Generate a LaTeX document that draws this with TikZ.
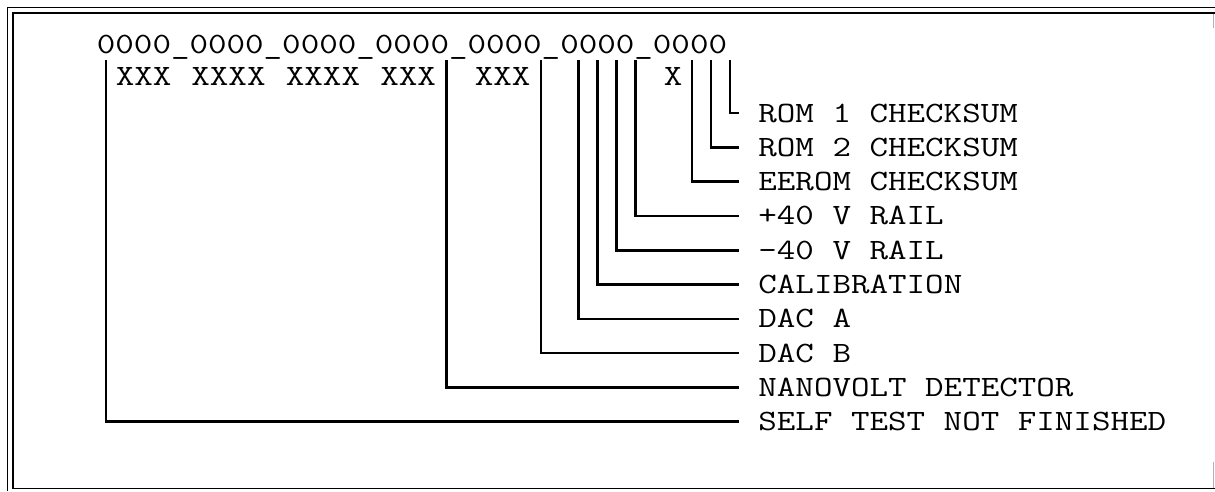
\documentclass[tikz,border=0pt]{standalone}
\usepackage{fontspec}
\newfontfamily\monofam{Latin Modern Mono}[FakeStretch=1.22]
\begin{document}
\begin{tikzpicture}[x=1pt,y=-1pt,
  txt/.style={font=\monofam\fontsize{29.5}{34}\selectfont, inner sep=0pt},
  lab/.style={txt, anchor=west, inner xsep=18.9pt, inner ysep=0pt, text height=18pt, text depth=0pt},
  conn/.style={line width=2.6pt},
  frameline/.style={line width=1.9pt},
  thinedge/.style={line width=1pt, black!30}]
\useasboundingbox (0,0) rectangle (1215,491);
% frame
\draw[frameline] (7.5,491) -- (7.5,7.5) -- (1215,7.5);
\draw[frameline] (12.7,488.5) -- (12.7,12.7) -- (1215,12.7);
\draw[frameline] (11.8,488.5) -- (1215,488.5);
\draw[thinedge] (1213.5,13.6) -- (1213.5,28);
\draw[thinedge] (1213.5,462) -- (1213.5,487.6);
% bit pattern
\node[txt, anchor=base west] (bits) at (96.7,53) {0000\_0000\_0000\_0000\_0000\_0000\_0000};
\node[txt, anchor=base west] (xa) at (115.6,85) {XXX};
\node[txt, anchor=base west] (xb) at (191.2,85) {XXXX};
\node[txt, anchor=base west] (xc) at (285.7,85) {XXXX};
\node[txt, anchor=base west] (xd) at (380.2,85) {XXX};
\node[txt, anchor=base west] (xe) at (474.7,85) {XXX};
\node[txt, anchor=base west] (xf) at (663.7,85) {X};
% bit positions
\coordinate (b33) at (729.85,60);
\coordinate (b32) at (710.95,60);
\coordinate (b31) at (692.05,60);
\coordinate (b28) at (635.35,60);
\coordinate (b27) at (616.45,60);
\coordinate (b26) at (597.55,60);
\coordinate (b25) at (578.65,60);
\coordinate (b23) at (540.85,60);
\coordinate (b18) at (446.35,60);
\coordinate (b0) at (106.15,60);
% labels
\node[lab] (l0) at (739.3,113) {ROM 1 CHECKSUM};
\node[lab] (l1) at (739.3,147.3) {ROM 2 CHECKSUM};
\node[lab] (l2) at (739.3,181.6) {EEROM CHECKSUM};
\node[lab] (l3) at (739.3,215.9) {+40 V RAIL};
\node[lab] (l4) at (739.3,250.2) {-40 V RAIL};
\node[lab] (l5) at (739.3,284.5) {CALIBRATION};
\node[lab] (l6) at (739.3,318.8) {DAC A};
\node[lab] (l7) at (739.3,353.1) {DAC B};
\node[lab] (l8) at (739.3,387.4) {NANOVOLT DETECTOR};
\node[lab] (l9) at (739.3,421.7) {SELF TEST NOT FINISHED};
% connectors
\draw[conn] (b33) |- (l0.west);
\draw[conn] (b32) |- (l1.west);
\draw[conn] (b31) |- (l2.west);
\draw[conn] (b28) |- (l3.west);
\draw[conn] (b27) |- (l4.west);
\draw[conn] (b26) |- (l5.west);
\draw[conn] (b25) |- (l6.west);
\draw[conn] (b23) |- (l7.west);
\draw[conn] (b18) |- (l8.west);
\draw[conn] (b0) |- (l9.west);
\end{tikzpicture}
\end{document}
